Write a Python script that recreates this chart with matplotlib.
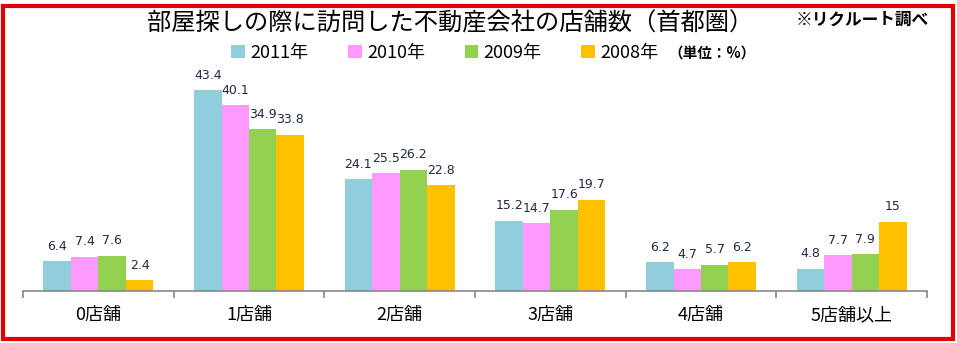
import matplotlib
matplotlib.use("Agg")
import matplotlib.pyplot as plt
import numpy as np
from matplotlib.patches import Rectangle

plt.rcParams['font.family'] = ['Noto Sans CJK JP', 'DejaVu Sans']

categories = ['0店舗', '1店舗', '2店舗', '3店舗', '4店舗', '5店舗以上']
series_names = ['2011年', '2010年', '2009年', '2008年']
v2011 = [6.4, 43.4, 24.1, 15.2, 6.2, 4.8]
v2010 = [7.4, 40.1, 25.5, 14.7, 4.7, 7.7]
v2009 = [7.6, 34.9, 26.2, 17.6, 5.7, 7.9]
v2008 = [2.4, 33.8, 22.8, 19.7, 6.2, 15]
colors = ['#92CDDC', '#FF99FF', '#92D050', '#FFC000']

W, H = 957, 343
fig = plt.figure(figsize=(W/100, H/100), dpi=100)
ax = fig.add_axes([23/W, (H-291)/H, (927-23)/W, (291-75)/H])

x = np.arange(len(categories))
bw = 0.73/4
handles = []
for i, (vals, name, c) in enumerate(zip([v2011, v2010, v2009, v2008], series_names, colors)):
    b = ax.bar(x + (i-1.5)*bw, vals, width=bw, color=c, label=name)
    ax.bar_label(b, labels=[f'{v:g}' for v in vals], padding=6, fontsize=9,
                 color='#1F2A44', family=['DejaVu Sans'])
    handles.append(b)

ax.set_xlim(-0.5, len(categories)-0.5)
ax.set_ylim(0, (291-75)/4.63)
for s in ['left', 'top', 'right']:
    ax.spines[s].set_visible(False)
ax.spines['bottom'].set_color('#888888')
ax.spines['bottom'].set_linewidth(1.2)
ax.set_yticks([])
ax.set_xticks(x)
ax.set_xticklabels(categories, fontsize=13)
ax.tick_params(axis='x', which='major', length=0, pad=11)
ax.set_xticks(np.arange(-0.5, len(categories), 1.0), minor=True)
ax.tick_params(axis='x', which='minor', length=5, color='#888888', width=1.2)

fig.text(450/W, 1-24/H, '部屋探しの際に訪問した不動産会社の店舗数（首都圏）',
         ha='center', va='center', fontsize=17.5)
fig.text(862/W, 1-20/H, '※リクルート調べ', ha='center', va='center',
         fontsize=12, fontweight='bold')

leg = fig.legend(handles=handles, labels=series_names, loc='center',
                 bbox_to_anchor=(445/W, 1-53/H), ncol=4, frameon=False,
                 fontsize=13, handlelength=0.75, handleheight=0.75,
                 handletextpad=0.3, columnspacing=2.2, borderaxespad=0)
fig.text(712/W, 1-54/H, '（単位：%）', ha='center', va='center', fontsize=10.5,
         fontweight='bold')

fig.patches.append(Rectangle((3/W, 4/H), (953-3)/W, (339-6)/H, transform=fig.transFigure,
                             fill=False, edgecolor='#E00000', linewidth=3))

fig.savefig('out.png', dpi=100)
